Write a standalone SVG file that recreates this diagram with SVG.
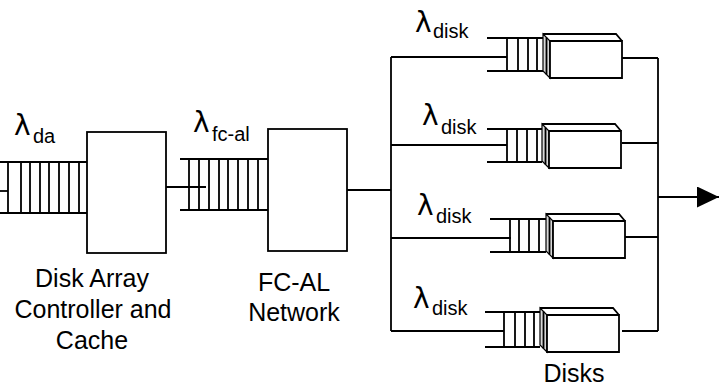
<svg xmlns="http://www.w3.org/2000/svg" width="720" height="389" viewBox="0 0 720 389">
<style>
.ln{stroke:#000;stroke-width:1.8;fill:none}
.bx{stroke:#000;stroke-width:1.8;fill:#fff}
.face{stroke:#000;stroke-width:1.2;fill:#d8d8d8}
.lam{font-family:"DejaVu Sans",sans-serif;font-size:28px;fill:#000}
.sub{font-family:"Liberation Sans",Arial,sans-serif;font-size:20px;fill:#000}
.lbl{font-family:"Liberation Sans",Arial,sans-serif;font-size:25px;fill:#000;text-anchor:middle}
</style>
<defs>
<marker id="arr" markerWidth="22" markerHeight="21" refX="22" refY="10.5" orient="auto" markerUnits="userSpaceOnUse">
<path d="M0,0 L22,10.5 L0,21 Z" fill="#000"/>
</marker>
<g id="diskshape">
<path class="face" d="M0,0 L7,7 L7,44 L0,37 Z"/>
<path class="bx" d="M7,7 L79,7 L79,44 L7,44 Z"/>
<path class="ln" d="M0,0 L73,0 L79,7"/>
<path class="ln" d="M3.5,3.5 L3.5,40.5"/>
</g>
</defs>

<g id="connectors">
<path class="ln" d="M0,191 H8"/>
<path class="ln" d="M166,187 H206"/>
<path class="ln" d="M347,190 H391"/>
<path class="ln" d="M391,57 V331"/>
<path class="ln" d="M391,57 H507"/>
<path class="ln" d="M391,145 H507"/>
<path class="ln" d="M391,238 H511"/>
<path class="ln" d="M391,331 H504"/>
<path class="ln" d="M622,58 H658"/>
<path class="ln" d="M622,143 H658"/>
<path class="ln" d="M625,237 H658"/>
<path class="ln" d="M622,331 H658"/>
<path class="ln" d="M658,58 V331"/>
<path class="ln" d="M658,197 H719" marker-end="url(#arr)"/>
</g>

<g id="queue-da">
<path class="ln" d="M0,162 H87 M0,213 H87 M8,162 V213 M21,162 V213 M30,162 V213 M40,162 V213 M49,162 V213 M59,162 V213 M69,162 V213 M79,162 V213"/>
<text class="lam" x="14" y="135">λ</text>
<text class="sub" x="33" y="143">da</text>
</g>

<g id="controller">
<rect class="bx" x="87" y="132" width="79" height="121"/>
<text class="lbl" x="92" y="287">Disk Array</text>
<text class="lbl" x="93" y="318">Controller and</text>
<text class="lbl" x="92" y="349">Cache</text>
</g>

<g id="queue-fcal">
<path class="ln" d="M180,159 H268 M180,210 H268 M189,159 V210 M199,159 V210 M209,159 V210 M219,159 V210 M228,159 V210 M238,159 V210 M248,159 V210 M258,159 V210"/>
<text class="lam" x="193" y="132">λ</text>
<text class="sub" x="212" y="141">fc-al</text>
</g>

<g id="fcal">
<rect class="bx" x="268" y="129" width="79" height="122"/>
<text class="lbl" x="294" y="291">FC-AL</text>
<text class="lbl" x="294" y="321">Network</text>
</g>

<g id="disk1">
<path class="ln" d="M487,38 H543 M487,71 H543 M507,38 V71 M518,38 V71 M528,38 V71 M537,38 V71"/>
<use href="#diskshape" x="543" y="34"/>
<text class="lam" x="415" y="32">λ</text>
<text class="sub" x="433" y="38">disk</text>
</g>

<g id="disk2">
<path class="ln" d="M487,129 H542 M487,162 H542 M507,129 V162 M517,129 V162 M527,129 V162 M537,129 V162"/>
<use href="#diskshape" x="542" y="124"/>
<text class="lam" x="422" y="125">λ</text>
<text class="sub" x="441" y="134">disk</text>
</g>

<g id="disk3">
<path class="ln" d="M490,219 H546 M490,252 H546 M510,219 V252 M519,219 V252 M529,219 V252 M539,219 V252"/>
<use href="#diskshape" x="546" y="214"/>
<text class="lam" x="417" y="215">λ</text>
<text class="sub" x="436" y="223">disk</text>
</g>

<g id="disk4">
<path class="ln" d="M485,312 H540 M485,347 H540 M504,312 V347 M515,312 V347 M525,312 V347 M534,312 V347"/>
<use href="#diskshape" x="540" y="308"/>
<text class="lam" x="413" y="308">λ</text>
<text class="sub" x="432" y="315">disk</text>
<text class="lbl" x="574" y="382">Disks</text>
</g>
</svg>
